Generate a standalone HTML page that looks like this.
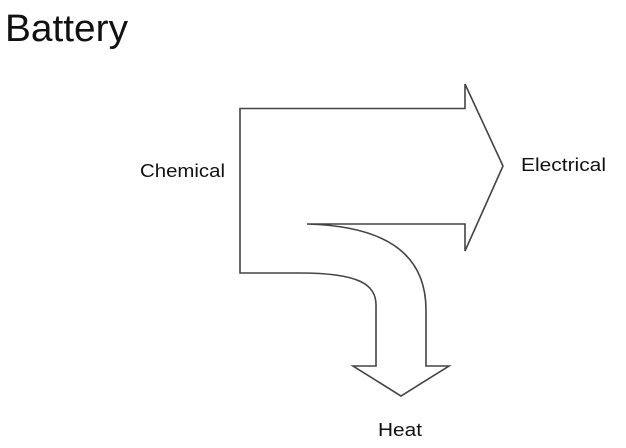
<!DOCTYPE html>
<html><head><style>
html,body{margin:0;padding:0;background:#fff;}
svg{display:block;}
</style></head><body>
<svg width="626" height="448" viewBox="0 0 626 448" xmlns="http://www.w3.org/2000/svg">
<text x="5" y="41" font-family="Liberation Sans, sans-serif" font-size="38" fill="#111" textLength="123" lengthAdjust="spacingAndGlyphs">Battery</text>
<path d="M240,108.5 L465,108.5 L465,84 L503,166 L465,251 L465,224 L307,224 C380,226 426,250 426,310 L426,366 L449,366 L401,396 L353,366 L376,366 L376,305 C376,285 360,273 300,273 L240,273 Z" fill="none" stroke="#444" stroke-width="1.6" stroke-linejoin="miter"/>
<text x="140" y="177" font-family="Liberation Sans, sans-serif" font-size="18" fill="#111" textLength="85" lengthAdjust="spacingAndGlyphs">Chemical</text>
<text x="521" y="171" font-family="Liberation Sans, sans-serif" font-size="18" fill="#111" textLength="85" lengthAdjust="spacingAndGlyphs">Electrical</text>
<text x="378" y="436" font-family="Liberation Sans, sans-serif" font-size="18" fill="#111" textLength="44" lengthAdjust="spacingAndGlyphs">Heat</text>
</svg>
</body></html>
